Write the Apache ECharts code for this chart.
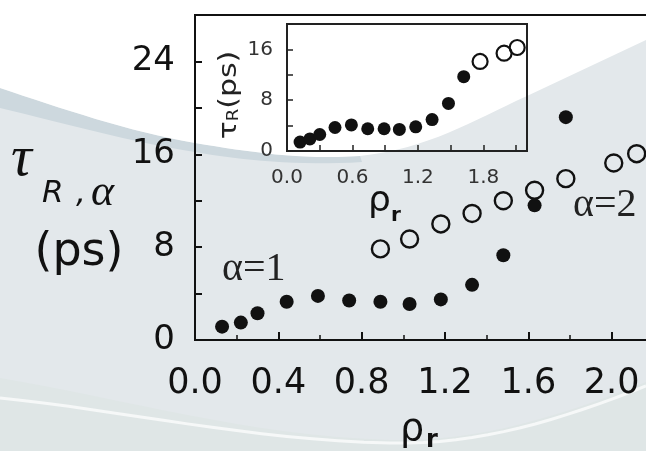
<!DOCTYPE html>
<html>
<head>
<meta charset="utf-8">
<script src="https://cdn.jsdelivr.net/npm/echarts@6/dist/echarts.min.js"></script>
<style>html,body{margin:0;padding:0;background:#fff;}#c{width:646px;height:451px;}</style>
</head>
<body>
<div id="c"></div>
<script>
// Main plot: alpha = 1 (filled) and alpha = 2 (open)
const rhoA1 = [0.13, 0.22, 0.30, 0.44, 0.59, 0.74, 0.89, 1.03, 1.18, 1.33, 1.48, 1.63, 1.78];
const tauA1 = [1.15, 1.5, 2.3, 3.3, 3.8, 3.4, 3.3, 3.1, 3.5, 4.75, 7.3, 11.6, 19.2];
const rhoA2 = [0.89, 1.03, 1.18, 1.33, 1.48, 1.63, 1.78, 2.01, 2.12];
const tauA2 = [7.85, 8.7, 10.0, 10.9, 12.0, 12.9, 13.9, 15.25, 16.05];
// Inset: tau_R
const rhoInFilled = [0.12, 0.21, 0.30, 0.44, 0.59, 0.74, 0.89, 1.03, 1.18, 1.33, 1.48, 1.62];
const tauInFilled = [1.4, 1.9, 2.6, 3.7, 4.1, 3.5, 3.5, 3.4, 3.8, 4.95, 7.5, 11.7];
const rhoInOpen = [1.77, 1.99, 2.11];
const tauInOpen = [14.1, 15.4, 16.3];
// Tick label sets
const mainXLabels = [0, 0.4, 0.8, 1.2, 1.6, 2.0];
const mainYLabels = [0, 8, 16, 24];
const insetXLabels = [0, 0.6, 1.2, 1.8];
const insetYLabels = [0, 8, 16];

const pairs = (xs, ys) => xs.map((x, i) => [x, ys[i]]);
const has = (arr, v) => arr.some(a => Math.abs(a - v) < 1e-6);
const INK = '#111111';

// decorative background helpers (cubic bezier sampling)
function curve(start, segs) {
  const pts = [start];
  let p0 = start;
  segs.forEach(s => {
    if (s.length === 1) { pts.push(s[0]); p0 = s[0]; return; }
    const [p1, p2, p3] = s;
    for (let i = 1; i <= 16; i++) {
      const t = i / 16, u = 1 - t;
      pts.push([
        u*u*u*p0[0] + 3*u*u*t*p1[0] + 3*u*t*t*p2[0] + t*t*t*p3[0],
        u*u*u*p0[1] + 3*u*u*t*p1[1] + 3*u*t*t*p2[1] + t*t*t*p3[1]
      ]);
    }
    p0 = p3;
  });
  return pts;
}
const topEdge = curve([0, 88], [
  [[60, 108], [130, 132], [195, 143]],
  [[250, 152], [300, 160], [360, 156]],
  [[430, 148], [470, 122], [527, 96]],
  [[646, 40]]
]);
const bandLow = curve([0, 108], [
  [[60, 122], [130, 142], [195, 152]],
  [[240, 160], [300, 166], [362, 162]]
]);
const bottomWave = curve([0, 398], [
  [[120, 410], [250, 440], [390, 443]],
  [[480, 445], [560, 420], [646, 386]]
]);
const bottomFill = curve([0, 378], [
  [[120, 398], [250, 436], [390, 440]],
  [[480, 442], [560, 416], [646, 382]]
]);

const chart = echarts.init(document.getElementById('c'), null, {renderer: 'canvas'});

const bg = [
  {type: 'rect', z: -100, shape: {x: 0, y: 0, width: 646, height: 451}, style: {fill: '#e3e8eb'}},
  {type: 'polygon', z: -99, shape: {points: bottomFill.concat([[646, 451], [0, 451]])}, style: {fill: '#dfe6e6'}},
  {type: 'polyline', z: -98, shape: {points: bottomWave}, style: {stroke: '#f6f8f8', lineWidth: 3, fill: null}},
  {type: 'polygon', z: -97, shape: {points: topEdge.slice(0, 33).concat(bandLow.slice().reverse())}, style: {fill: '#cdd8de'}},
  {type: 'polygon', z: -96, shape: {points: [[0, 0], [646, 0]].concat(topEdge.slice().reverse())}, style: {fill: '#ffffff'}}
];

const texts = [
  {type: 'text', z: 50, x: 11, y: 160, style: {text: 'τ', font: 'italic 58px "Liberation Serif"', fill: INK, align: 'left', verticalAlign: 'middle'}},
  {type: 'text', z: 50, x: 42, y: 194, style: {text: 'R', font: 'italic 31px "DejaVu Sans"', fill: INK, align: 'left', verticalAlign: 'middle'}},
  {type: 'text', z: 50, x: 76, y: 194, style: {text: ',', font: 'italic 31px "DejaVu Sans"', fill: INK, align: 'left', verticalAlign: 'middle'}},
  {type: 'text', z: 50, x: 91, y: 193, style: {text: 'α', font: 'italic 44px "Liberation Serif"', fill: INK, align: 'left', verticalAlign: 'middle'}},
  {type: 'text', z: 50, x: 79, y: 253, style: {text: '(ps)', font: '46px "DejaVu Sans"', fill: INK, align: 'center', verticalAlign: 'middle'}},
  {type: 'text', z: 50, x: 400, y: 430, style: {text: 'ρ', font: '38px "DejaVu Sans"', fill: INK, align: 'left', verticalAlign: 'middle'}},
  {type: 'text', z: 50, x: 426, y: 441, style: {text: 'r', font: 'bold 24px "DejaVu Sans"', fill: INK, align: 'left', verticalAlign: 'middle'}},
  {type: 'text', z: 50, x: 368, y: 202, style: {text: 'ρ', font: '36px "DejaVu Sans"', fill: INK, align: 'left', verticalAlign: 'middle'}},
  {type: 'text', z: 50, x: 391, y: 216, style: {text: 'r', font: 'bold 20px "DejaVu Sans"', fill: INK, align: 'left', verticalAlign: 'middle'}},
  {type: 'text', z: 50, x: 222, y: 269, style: {text: 'α=1', font: '40px "Liberation Serif"', fill: '#222', align: 'left', verticalAlign: 'middle'}},
  {type: 'text', z: 50, x: 573, y: 205, style: {text: 'α=2', font: '40px "Liberation Serif"', fill: '#222', align: 'left', verticalAlign: 'middle'}},
  {type: 'text', z: 50, x: 229, y: 95, rotation: Math.PI / 2, scaleX: 1.2,
    style: {text: '{t|τ}{s|R}{p|(ps)}', align: 'center', verticalAlign: 'middle', fill: '#222',
      rich: {
        t: {fontFamily: 'DejaVu Sans', fontSize: 25, fill: '#222'},
        s: {fontFamily: 'DejaVu Sans', fontSize: 15, fill: '#222', verticalAlign: 'bottom'},
        p: {fontFamily: 'DejaVu Sans', fontSize: 25, fill: '#222'}
      }}}
];

const option = {
  animation: false,
  backgroundColor: 'transparent',
  graphic: {elements: bg.concat(texts)},
  grid: [
    {left: 195, top: 15, right: -49, bottom: 111, show: true, borderColor: INK, borderWidth: 2,
      backgroundColor: 'transparent', containLabel: false, outerBoundsMode: 'none'},
    {left: 287, top: 24, width: 240, height: 127, show: true, borderColor: '#222', borderWidth: 2,
      backgroundColor: 'transparent', containLabel: false, outerBoundsMode: 'none'}
  ],
  xAxis: [
    {gridIndex: 0, type: 'value', min: 0, max: 2.4, interval: 0.4,
      axisLine: {show: true, lineStyle: {color: INK, width: 2}},
      splitLine: {show: false},
      axisTick: {inside: true, length: 8, lineStyle: {color: INK, width: 2}},
      minorTick: {show: true, splitNumber: 2, length: 5, lineStyle: {color: INK, width: 1.5}},
      minorSplitLine: {show: false},
      axisLabel: {fontFamily: 'DejaVu Sans', fontSize: 35, color: INK, margin: 26,
        formatter: v => has(mainXLabels, v) ? v.toFixed(1) : ''}
    },
    {gridIndex: 1, type: 'value', min: 0, max: 2.2, interval: 0.3,
      axisLine: {show: true, lineStyle: {color: '#222', width: 2}},
      splitLine: {show: false},
      axisTick: {inside: true, length: 6, lineStyle: {color: '#222', width: 1.5}},
      axisLabel: {fontFamily: 'DejaVu Sans', fontSize: 20, color: '#333', margin: 17,
        formatter: v => has(insetXLabels, v) ? v.toFixed(1) : ''}
    }
  ],
  yAxis: [
    {gridIndex: 0, type: 'value', min: 0, max: 28, interval: 4,
      axisLine: {show: true, lineStyle: {color: INK, width: 2}},
      splitLine: {show: false},
      axisTick: {inside: true, length: 7, lineStyle: {color: INK, width: 2}},
      axisLabel: {fontFamily: 'DejaVu Sans', fontSize: 34, color: INK, margin: 20,
        formatter: v => has(mainYLabels, v) ? String(v) : ''}
    },
    {gridIndex: 1, type: 'value', min: 0, max: 20, interval: 4,
      axisLine: {show: true, lineStyle: {color: '#222', width: 2}},
      splitLine: {show: false},
      axisTick: {inside: true, length: 6, lineStyle: {color: '#222', width: 1.5}},
      axisLabel: {fontFamily: 'DejaVu Sans', fontSize: 20, color: '#333', margin: 14,
        formatter: v => has(insetYLabels, v) ? String(v) : ''}
    }
  ],
  series: [
    {type: 'scatter', xAxisIndex: 0, yAxisIndex: 0, data: pairs(rhoA2, tauA2), symbol: 'circle', symbolSize: 17,
      itemStyle: {color: 'rgba(0,0,0,0)', borderColor: INK, borderWidth: 2.4, opacity: 1}, z: 3},
    {type: 'scatter', xAxisIndex: 0, yAxisIndex: 0, data: pairs(rhoA1, tauA1), symbol: 'circle', symbolSize: 14,
      itemStyle: {color: INK, opacity: 1}, z: 4},
    {type: 'scatter', xAxisIndex: 1, yAxisIndex: 1, data: pairs(rhoInFilled, tauInFilled), symbol: 'circle', symbolSize: 13,
      itemStyle: {color: INK, opacity: 1}, z: 4},
    {type: 'scatter', xAxisIndex: 1, yAxisIndex: 1, data: pairs(rhoInOpen, tauInOpen), symbol: 'circle', symbolSize: 15,
      itemStyle: {color: 'rgba(0,0,0,0)', borderColor: INK, borderWidth: 2.2, opacity: 1}, z: 3}
  ]
};
chart.setOption(option);
</script>
</body>
</html>
